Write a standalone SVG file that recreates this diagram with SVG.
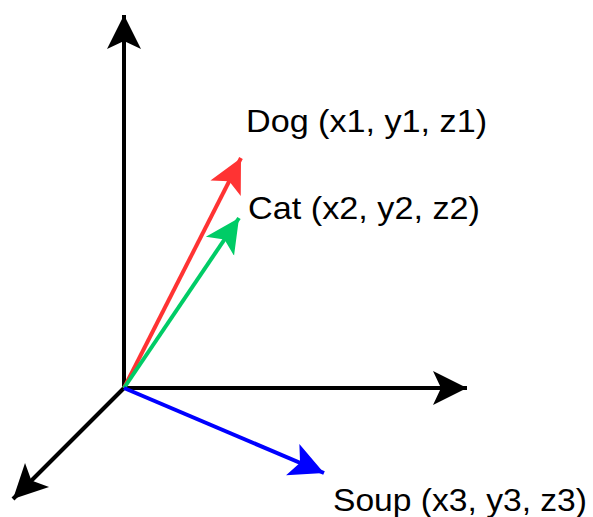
<svg xmlns="http://www.w3.org/2000/svg" width="593" height="517" viewBox="0 0 593 517">
<style>
.lbl{font-family:"Liberation Sans",Arial,sans-serif;font-size:32px;fill:#000}
.ax{stroke-width:4;fill:none}
</style>
<defs>
<marker id="mb" viewBox="0 0 36 36" refX="34" refY="18" markerWidth="36" markerHeight="36" markerUnits="userSpaceOnUse" orient="auto">
<path d="M0,1 L34,18 L0,35 L8,18 Z" fill="#000"/>
</marker>
<marker id="mr" viewBox="0 0 36 36" refX="34" refY="18" markerWidth="36" markerHeight="36" markerUnits="userSpaceOnUse" orient="auto">
<path d="M0,1 L34,18 L0,35 L8,18 Z" fill="#ff3333"/>
</marker>
<marker id="mg" viewBox="0 0 36 36" refX="34" refY="18" markerWidth="36" markerHeight="36" markerUnits="userSpaceOnUse" orient="auto">
<path d="M0,1 L34,18 L0,35 L8,18 Z" fill="#00cc66"/>
</marker>
<marker id="mbl" viewBox="0 0 36 36" refX="34" refY="18" markerWidth="36" markerHeight="36" markerUnits="userSpaceOnUse" orient="auto">
<path d="M0,1 L34,18 L0,35 L8,18 Z" fill="#0000ff"/>
</marker>
</defs>
<g id="connectors">
<line class="ax" x1="124" y1="388" x2="124" y2="15" stroke="#000" marker-end="url(#mb)"/>
<line class="ax" x1="124" y1="388" x2="467" y2="388" stroke="#000" marker-end="url(#mb)"/>
<line class="ax" x1="124" y1="388" x2="13" y2="499" stroke="#000" marker-end="url(#mb)"/>
<line class="ax" x1="124" y1="388" x2="241" y2="158" stroke="#ff3333" marker-end="url(#mr)"/>
<line class="ax" x1="124" y1="388" x2="239" y2="218" stroke="#00cc66" marker-end="url(#mg)"/>
<line class="ax" x1="124" y1="388" x2="324" y2="473" stroke="#0000ff" marker-end="url(#mbl)"/>
</g>
<g id="dog"><text class="lbl" x="246" y="132" textLength="241" lengthAdjust="spacingAndGlyphs">Dog (x1, y1, z1)</text></g>
<g id="cat"><text class="lbl" x="248" y="219" textLength="232" lengthAdjust="spacingAndGlyphs">Cat (x2, y2, z2)</text></g>
<g id="soup"><text class="lbl" x="333" y="511" textLength="254" lengthAdjust="spacingAndGlyphs">Soup (x3, y3, z3)</text></g>
</svg>
